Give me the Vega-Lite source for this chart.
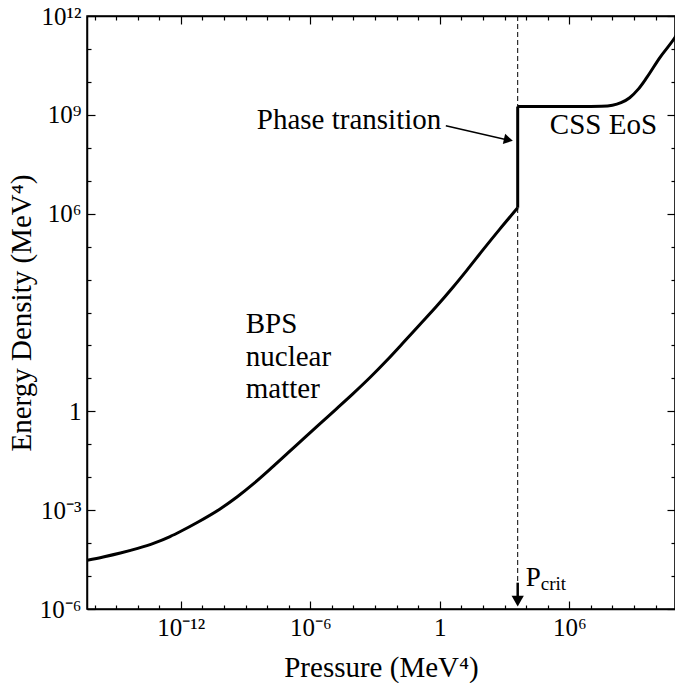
{
  "$schema": "https://vega.github.io/schema/vega-lite/v6.json",
  "width": 588,
  "height": 593,
  "autosize": {"type": "none"},
  "padding": {"left": 87, "top": 16, "right": 0, "bottom": 74},
  "background": "white",
  "config": {
    "view": {"stroke": "black", "strokeWidth": 1.5},
    "font": "Liberation Serif, Times New Roman, serif",
    "text": {"font": "Liberation Serif, Times New Roman, serif", "color": "black"},
    "axis": {
      "labelFont": "Liberation Serif, Times New Roman, serif", "titleFont": "Liberation Serif, Times New Roman, serif",
      "labelColor": "black", "titleColor": "black", "domainColor": "black", "tickColor": "black",
      "grid": false, "labelFontSize": 25, "titleFontSize": 29, "titleFontWeight": "normal",
      "domainWidth": 1.5, "tickWidth": 1.2, "labelOverlap": false, "labelFlush": false, "labelBound": false
    }
  },
  "datasets": {
    "curve": [
      {"s": "a", "P": 4.47e-17, "E": 3.02e-5},
      {"s": "a", "P": 2.51e-16, "E": 3.80e-5},
      {"s": "a", "P": 1.58e-15, "E": 5.01e-5},
      {"s": "a", "P": 1e-14, "E": 6.92e-5},
      {"s": "a", "P": 5.75e-14, "E": 1.0e-4},
      {"s": "a", "P": 3.16e-13, "E": 1.58e-4},
      {"s": "a", "P": 1e-12, "E": 2.29e-4},
      {"s": "a", "P": 6.31e-12, "E": 4.37e-4},
      {"s": "a", "P": 6.31e-11, "E": 1.07e-3},
      {"s": "a", "P": 3.98e-10, "E": 2.51e-3},
      {"s": "a", "P": 2.51e-9, "E": 6.61e-3},
      {"s": "a", "P": 1.58e-8, "E": 1.91e-2},
      {"s": "a", "P": 1e-7, "E": 5.75e-2},
      {"s": "a", "P": 5.01e-7, "E": 0.151},
      {"s": "a", "P": 2.75e-6, "E": 0.417},
      {"s": "a", "P": 1.58e-5, "E": 1.175},
      {"s": "a", "P": 9.33e-5, "E": 3.39},
      {"s": "a", "P": 6.31e-4, "E": 11.2},
      {"s": "a", "P": 3.55e-3, "E": 35.5},
      {"s": "a", "P": 0.02, "E": 120},
      {"s": "a", "P": 0.117, "E": 427},
      {"s": "a", "P": 0.708, "E": 1549},
      {"s": "a", "P": 3.98, "E": 5754},
      {"s": "a", "P": 17.8, "E": 19055},
      {"s": "a", "P": 100, "E": 79433},
      {"s": "a", "P": 603, "E": 338844},
      {"s": "a", "P": 4074, "E": 1.51e6},
      {"s": "b", "P": 4074, "E": 1.78e9},
      {"s": "b", "P": 1e5, "E": 1.78e9},
      {"s": "b", "P": 3.16e6, "E": 1.78e9},
      {"s": "b", "P": 3.16e7, "E": 1.82e9},
      {"s": "b", "P": 1e8, "E": 1.95e9},
      {"s": "b", "P": 2.51e8, "E": 2.34e9},
      {"s": "b", "P": 6.31e8, "E": 3.31e9},
      {"s": "b", "P": 1.58e9, "E": 6.03e9},
      {"s": "b", "P": 3.80e9, "E": 1.32e10},
      {"s": "b", "P": 1.55e10, "E": 5.37e10},
      {"s": "b", "P": 7.59e10, "E": 2.14e11},
      {"s": "b", "P": 8.91e10, "E": 2.51e11}
    ]
  },
  "layer": [
    {
      "data": {"name": "curve"},
      "mark": {"type": "line", "color": "black", "strokeWidth": 3, "clip": true, "interpolate": "monotone"},
      "encoding": {
        "x": {"field": "P", "type": "quantitative",
          "scale": {"type": "log", "domain": [4.47e-17, 7.94e10], "nice": false},
          "axis": {"orient": "bottom", "title": "Pressure (MeV⁴)", "titlePadding": 13,
            "values": [1e-12, 1e-6, 1, 1e6],
            "tickSize": -8,
            "labelPadding": 14,
            "labelExpr": "round(log(datum.value)/LN10) == -12 ? '10⁻¹²' : round(log(datum.value)/LN10) == -6 ? '10⁻⁶' : round(log(datum.value)/LN10) == 0 ? '1' : round(log(datum.value)/LN10) == 6 ? '10⁶' : ''"}},
        "y": {"field": "E", "type": "quantitative",
          "scale": {"type": "log", "domain": [1e-6, 1e12], "nice": false},
          "axis": {"orient": "left", "title": "Energy Density (MeV⁴)", "titlePadding": 3,
            "values": [1e-6, 1e-3, 1, 1e6, 1e9, 1e12],
            "tickSize": -8,
            "labelPadding": 14,
            "labelExpr": "round(log(datum.value)/LN10) == -6 ? '10⁻⁶' : round(log(datum.value)/LN10) == -3 ? '10⁻³' : round(log(datum.value)/LN10) == 0 ? '1' : round(log(datum.value)/LN10) == 6 ? '10⁶' : round(log(datum.value)/LN10) == 9 ? '10⁹' : round(log(datum.value)/LN10) == 12 ? '10¹²' : ''"}},
        "detail": {"field": "s", "type": "nominal"}
      }
    },
    {
      "data": {"name": "curve"},
      "mark": {"type": "line", "opacity": 0, "clip": true},
      "encoding": {
        "x": {"field": "P", "type": "quantitative",
          "scale": {"type": "log", "domain": [4.47e-17, 7.94e10], "nice": false},
          "axis": {"orient": "bottom", "title": null, "labels": false, "domain": false,
            "values": [1e-16,1e-15,1e-14,1e-13,1e-11,1e-10,1e-9,1e-8,1e-7,1e-5,1e-4,1e-3,1e-2,1e-1,10,100,1000,1e4,1e5,1e7,1e8,1e9,1e10],
            "tickSize": -4}},
        "y": {"field": "E", "type": "quantitative",
          "scale": {"type": "log", "domain": [1e-6, 1e12], "nice": false},
          "axis": {"orient": "left", "title": null, "labels": false, "domain": false,
            "values": [1e-5,1e-4,1e-2,1e-1,10,100,1000,1e4,1e5,1e7,1e8,1e10,1e11],
            "tickSize": -4}},
        "detail": {"field": "s", "type": "nominal"}
      }
    },
    {
      "data": {"name": "curve"},
      "mark": {"type": "line", "opacity": 0, "clip": true},
      "encoding": {
        "x": {"field": "P", "type": "quantitative",
          "scale": {"type": "log", "domain": [4.47e-17, 7.94e10], "nice": false},
          "axis": {"orient": "top", "title": null, "labels": false,
            "values": [1e-12, 1e-6, 1, 1e6],
            "tickSize": -8}},
        "y": {"field": "E", "type": "quantitative",
          "scale": {"type": "log", "domain": [1e-6, 1e12], "nice": false},
          "axis": {"orient": "right", "title": null, "labels": false,
            "values": [1e-6, 1e-3, 1, 1e6, 1e9, 1e12],
            "tickSize": -8}},
        "detail": {"field": "s", "type": "nominal"}
      }
    },
    {
      "data": {"name": "curve"},
      "mark": {"type": "line", "opacity": 0, "clip": true},
      "encoding": {
        "x": {"field": "P", "type": "quantitative",
          "scale": {"type": "log", "domain": [4.47e-17, 7.94e10], "nice": false},
          "axis": {"orient": "top", "title": null, "labels": false, "domain": false,
            "values": [1e-16,1e-15,1e-14,1e-13,1e-11,1e-10,1e-9,1e-8,1e-7,1e-5,1e-4,1e-3,1e-2,1e-1,10,100,1000,1e4,1e5,1e7,1e8,1e9,1e10],
            "tickSize": -4}},
        "y": {"field": "E", "type": "quantitative",
          "scale": {"type": "log", "domain": [1e-6, 1e12], "nice": false},
          "axis": {"orient": "right", "title": null, "labels": false, "domain": false,
            "values": [1e-5,1e-4,1e-2,1e-1,10,100,1000,1e4,1e5,1e7,1e8,1e10,1e11],
            "tickSize": -4}},
        "detail": {"field": "s", "type": "nominal"}
      }
    },
    {
      "data": {"values": [{"P": 4074, "E": 1.51e6, "E2": 1.78e9}]},
      "mark": {"type": "rule", "color": "black", "strokeWidth": 3},
      "encoding": {
        "x": {"field": "P", "type": "quantitative", "scale": {"type": "log", "domain": [4.47e-17, 7.94e10], "nice": false}, "axis": null},
        "y": {"field": "E", "type": "quantitative", "scale": {"type": "log", "domain": [1e-6, 1e12], "nice": false}, "axis": null},
        "y2": {"field": "E2"}
      }
    },
    {
      "data": {"values": [{"P": 4074, "E": 1e12, "E2": 6.3e-6}]},
      "mark": {"type": "rule", "color": "black", "strokeWidth": 1, "strokeDash": [5, 3]},
      "encoding": {
        "x": {"field": "P", "type": "quantitative", "scale": {"type": "log", "domain": [4.47e-17, 7.94e10], "nice": false}, "axis": null},
        "y": {"field": "E", "type": "quantitative", "scale": {"type": "log", "domain": [1e-6, 1e12], "nice": false}, "axis": null},
        "y2": {"field": "E2"}
      }
    },
    {
      "data": {"values": [{"P": 4074, "E": 6.3e-6, "E2": 2.29e-6}]},
      "mark": {"type": "rule", "color": "black", "strokeWidth": 2.5},
      "encoding": {
        "x": {"field": "P", "type": "quantitative", "scale": {"type": "log", "domain": [4.47e-17, 7.94e10], "nice": false}, "axis": null},
        "y": {"field": "E", "type": "quantitative", "scale": {"type": "log", "domain": [1e-6, 1e12], "nice": false}, "axis": null},
        "y2": {"field": "E2"}
      }
    },
    {
      "data": {"values": [{"P": 4074, "E": 1.74e-6}]},
      "mark": {"type": "point", "shape": "triangle-down", "filled": true, "color": "black", "opacity": 1, "size": 150},
      "encoding": {
        "x": {"field": "P", "type": "quantitative", "scale": {"type": "log", "domain": [4.47e-17, 7.94e10], "nice": false}, "axis": null},
        "y": {"field": "E", "type": "quantitative", "scale": {"type": "log", "domain": [1e-6, 1e12], "nice": false}, "axis": null}
      }
    },
    {
      "data": {"values": [{"P": 1.905, "E": 4.68e8, "P2": 1778, "E2": 1.66e8}]},
      "mark": {"type": "rule", "color": "black", "strokeWidth": 1.5},
      "encoding": {
        "x": {"field": "P", "type": "quantitative", "scale": {"type": "log", "domain": [4.47e-17, 7.94e10], "nice": false}, "axis": null},
        "y": {"field": "E", "type": "quantitative", "scale": {"type": "log", "domain": [1e-6, 1e12], "nice": false}, "axis": null},
        "x2": {"field": "P2"},
        "y2": {"field": "E2"}
      }
    },
    {
      "data": {"values": [{"P": 1514, "E": 1.74e8}]},
      "mark": {"type": "point", "shape": "triangle-right", "angle": 12.6, "filled": true, "color": "black", "opacity": 1, "size": 110},
      "encoding": {
        "x": {"field": "P", "type": "quantitative", "scale": {"type": "log", "domain": [4.47e-17, 7.94e10], "nice": false}, "axis": null},
        "y": {"field": "E", "type": "quantitative", "scale": {"type": "log", "domain": [1e-6, 1e12], "nice": false}, "axis": null}
      }
    },
    {
      "data": {"values": [
        {"label": "Phase transition", "P": 3.31e-9, "E": 7.08e8},
        {"label": "CSS EoS", "P": 1.26e5, "E": 5.01e8},
        {"label": "BPS", "P": 1.02e-9, "E": 437},
        {"label": "nuclear", "P": 1.02e-9, "E": 43.7},
        {"label": "matter", "P": 1.02e-9, "E": 4.68}
      ]},
      "mark": {"type": "text", "align": "left", "baseline": "middle", "fontSize": 29, "color": "black", "font": "Liberation Serif, Times New Roman, serif"},
      "encoding": {
        "x": {"field": "P", "type": "quantitative", "scale": {"type": "log", "domain": [4.47e-17, 7.94e10], "nice": false}, "axis": null},
        "y": {"field": "E", "type": "quantitative", "scale": {"type": "log", "domain": [1e-6, 1e12], "nice": false}, "axis": null},
        "text": {"field": "label"}
      }
    },
    {
      "data": {"values": [{"label": "P", "P": 9661, "E": 5.0e-6}]},
      "mark": {"type": "text", "align": "left", "baseline": "alphabetic", "fontSize": 27, "color": "black", "font": "Liberation Serif, Times New Roman, serif"},
      "encoding": {
        "x": {"field": "P", "type": "quantitative", "scale": {"type": "log", "domain": [4.47e-17, 7.94e10], "nice": false}, "axis": null},
        "y": {"field": "E", "type": "quantitative", "scale": {"type": "log", "domain": [1e-6, 1e12], "nice": false}, "axis": null},
        "text": {"field": "label"}
      }
    },
    {
      "data": {"values": [{"label": "crit", "P": 47863, "E": 3.8e-6}]},
      "mark": {"type": "text", "align": "left", "baseline": "alphabetic", "fontSize": 19, "color": "black", "font": "Liberation Serif, Times New Roman, serif"},
      "encoding": {
        "x": {"field": "P", "type": "quantitative", "scale": {"type": "log", "domain": [4.47e-17, 7.94e10], "nice": false}, "axis": null},
        "y": {"field": "E", "type": "quantitative", "scale": {"type": "log", "domain": [1e-6, 1e12], "nice": false}, "axis": null},
        "text": {"field": "label"}
      }
    }
  ],
  "resolve": {"axis": {"x": "independent", "y": "independent"}}
}
